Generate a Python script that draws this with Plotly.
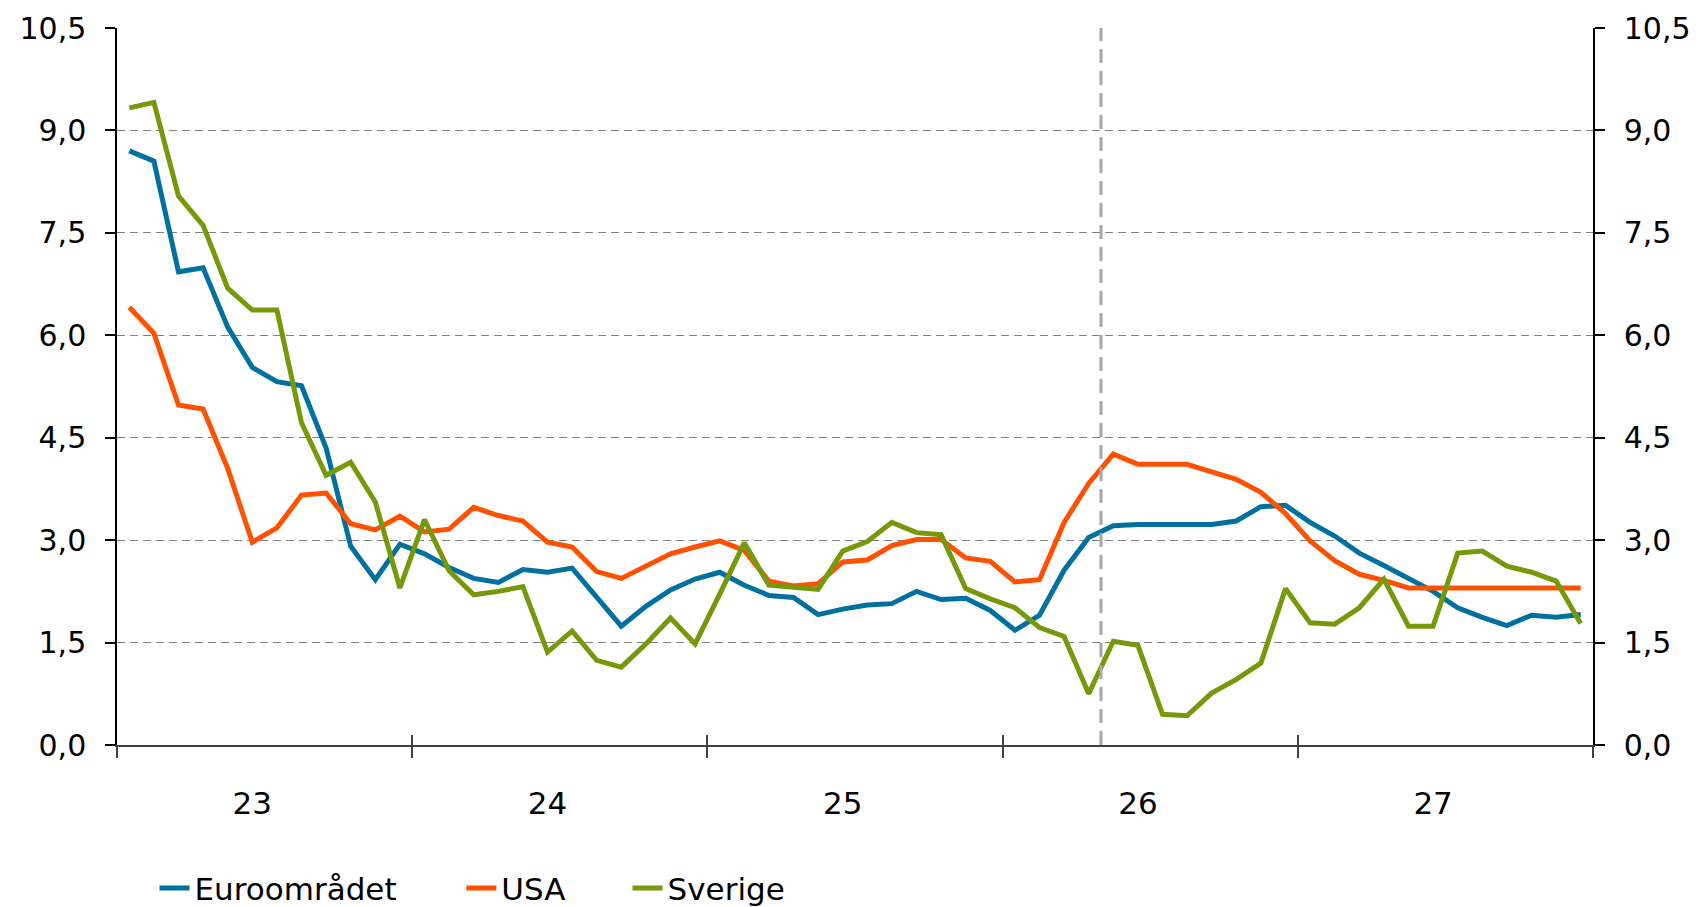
import numpy as np
import plotly.graph_objects as go

# ---- data (monthly, Jan 2023 - Dec 2027) ----
years = ["23", "24", "25", "26", "27"]
euro = [8.70, 8.55, 6.93, 6.99, 6.12, 5.53, 5.32, 5.26, 4.35, 2.91, 2.42, 2.94,
        2.80, 2.60, 2.44, 2.38, 2.57, 2.53, 2.59, 2.16, 1.74, 2.03, 2.27, 2.43,
        2.53, 2.34, 2.19, 2.16, 1.91, 1.99, 2.05, 2.07, 2.25, 2.13, 2.15, 1.97,
        1.68, 1.90, 2.56, 3.04, 3.21, 3.23, 3.23, 3.23, 3.23, 3.28, 3.49, 3.51,
        3.26, 3.06, 2.81, 2.63, 2.43, 2.25, 2.01, 1.87, 1.75, 1.90, 1.87, 1.91]
usa = [6.41, 6.03, 4.98, 4.92, 4.05, 2.97, 3.18, 3.66, 3.69, 3.24, 3.15, 3.35,
       3.12, 3.16, 3.48, 3.36, 3.28, 2.97, 2.90, 2.54, 2.44, 2.63, 2.80, 2.90,
       2.99, 2.85, 2.40, 2.33, 2.36, 2.68, 2.71, 2.92, 3.01, 3.01, 2.74, 2.69,
       2.39, 2.42, 3.26, 3.83, 4.26, 4.11, 4.11, 4.11, 4.00, 3.89, 3.70, 3.39,
       2.99, 2.70, 2.50, 2.41, 2.30, 2.30, 2.30, 2.30, 2.30, 2.30, 2.30, 2.30]
sverige = [9.33, 9.41, 8.04, 7.61, 6.69, 6.37, 6.37, 4.72, 3.95, 4.14, 3.56, 2.30,
           3.30, 2.55, 2.20, 2.25, 2.32, 1.36, 1.67, 1.24, 1.14, 1.48, 1.86, 1.48,
           2.21, 2.96, 2.34, 2.31, 2.28, 2.84, 2.98, 3.26, 3.11, 3.08, 2.29, 2.14,
           2.01, 1.72, 1.59, 0.75, 1.52, 1.46, 0.45, 0.43, 0.76, 0.96, 1.20, 2.29,
           1.79, 1.77, 2.01, 2.43, 1.74, 1.74, 2.81, 2.84, 2.62, 2.53, 2.40, 1.78]
series_names = ["Euroområdet", "USA", "Sverige"]
series_colors = ["#00719f", "#ff5100", "#76990b"]
legend_ids = ["legend", "legend2", "legend3"]
legend_x = [0.0254, 0.2333, 0.3459]
forecast_start_month = 40  # prognosis starts May 2026 (months since Jan 2023)
y_ticks = [0.0, 1.5, 3.0, 4.5, 6.0, 7.5, 9.0, 10.5]

n = len(euro)
x = np.arange(n) + 0.5
year_bounds = list(range(0, n + 1, 12))
year_label_pos = [12 * k + 5.5 for k in range(len(years))]

fig = go.Figure()
for name, vals, col, lg in zip(series_names, [euro, usa, sverige], series_colors, legend_ids):
    fig.add_trace(go.Scatter(x=x, y=vals, name=name, mode="lines", legend=lg,
                             line=dict(color=col, width=5)))
# dummy trace to activate secondary axes
fig.add_trace(go.Scatter(x=[x[0]], y=[None], xaxis="x2", yaxis="y2",
                         showlegend=False, hoverinfo="skip"))

fig.add_shape(type="line", xref="x", yref="paper",
              x0=forecast_start_month, x1=forecast_start_month, y0=0, y1=1,
              line=dict(color="#a6a6a6", width=3, dash="14px,8px"), layer="above")

font = "DejaVu Sans, Verdana, sans-serif"
yaxis_common = dict(range=[y_ticks[0], y_ticks[-1]], tickvals=y_ticks, tickformat=".1f",
                    ticks="outside", ticklen=10, tickcolor="black", tickwidth=1.5,
                    showline=True, linecolor="black", linewidth=1.5,
                    zeroline=False, tickfont=dict(size=30, color="black"),
                    ticklabelstandoff=13)
legend_common = dict(orientation="h", xanchor="left", y=-0.2, yanchor="middle",
                     font=dict(size=31, color="black"), bgcolor="rgba(0,0,0,0)")
fig.update_layout(
    width=1701, height=907,
    margin=dict(l=117, r=108, t=28, b=162, autoexpand=False),
    separators=", ",
    font=dict(family=font, color="black"),
    plot_bgcolor="white", paper_bgcolor="white",
    xaxis=dict(range=[0, n], tickvals=year_label_pos, ticktext=years, ticks="",
               showline=True, linecolor="#404040", linewidth=2, showgrid=False,
               zeroline=False, tickfont=dict(size=31, color="black"),
               ticklabelstandoff=30,
               minor=dict(tickvals=year_bounds, ticks="outside", ticklen=11,
                          tickcolor="#404040", tickwidth=2, showgrid=False)),
    xaxis2=dict(range=[0, n], overlaying="x", anchor="y2", side="bottom",
                tickvals=year_bounds, ticks="inside", ticklen=10, tickcolor="#404040",
                tickwidth=2, showticklabels=False, showgrid=False, zeroline=False,
                showline=False),
    yaxis=dict(**yaxis_common, showgrid=True, gridcolor="#808080", gridwidth=1.4,
               griddash="8px,5px"),
    yaxis2=dict(**yaxis_common, overlaying="y", side="right", showgrid=False),
    legend=dict(**legend_common, x=legend_x[0]),
    legend2=dict(**legend_common, x=legend_x[1]),
    legend3=dict(**legend_common, x=legend_x[2]),
)
fig.write_html("out.html", config={"displayModeBar": False},
               post_script="document.body.style.margin='0';"
                           "document.documentElement.style.overflow='hidden';")
